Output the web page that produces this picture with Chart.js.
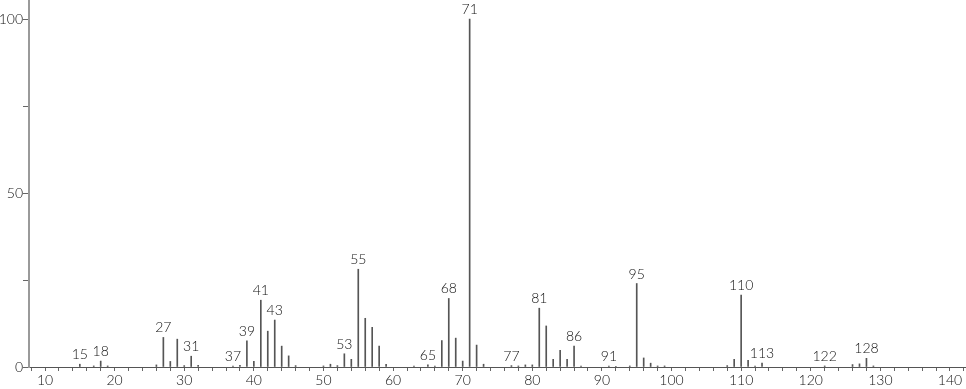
<!DOCTYPE html>
<html>
<head>
<meta charset="utf-8">
<script src="https://cdn.jsdelivr.net/npm/chart.js@4.4.1/dist/chart.umd.min.js"></script>
<style>
html,body{margin:0;padding:0;background:#fff;}
#wrap{width:966px;height:389px;position:relative;}
</style>
</head>
<body>
<div id="wrap"><canvas id="c" width="966" height="389"></canvas></div>
<script>
// m/z values and relative intensities
const mz = [15,17,18,19,26,27,28,29,30,31,32,37,38,39,40,41,42,43,44,45,46,50,51,52,53,54,55,56,57,58,59,63,65,66,67,68,69,70,71,72,73,77,78,79,80,81,82,83,84,85,86,87,91,92,94,95,96,97,98,99,108,109,110,111,112,113,122,126,127,128,129];
const intensity = [0.8,0.3,1.7,0.3,0.6,8.5,1.6,8.0,0.4,3.1,0.5,0.3,0.5,7.5,1.6,19.2,10.3,13.5,6.0,3.2,0.4,0.3,0.8,0.4,3.8,2.2,28.1,14.0,11.4,6.0,0.8,0.3,0.6,0.3,7.6,19.7,8.3,1.7,100,6.3,0.8,0.4,0.3,0.6,0.6,16.9,11.8,2.2,4.8,2.2,6.0,0.3,0.3,0.2,0.3,24.0,2.6,1.1,0.3,0.3,0.4,2.2,20.7,1.9,0.3,1.1,0.3,0.7,0.9,2.5,0.3];
const labelledPeaks = [15,18,27,31,37,39,41,43,53,55,65,68,71,77,81,86,91,95,110,113,122,128];
const yTickLabels = [0,50,100];
const xTickStep = 2;
const xLabelEvery = 10;

const points = mz.map((m,i)=>({x:m,y:intensity[i]}));
const FONT = 'Lato, "DejaVu Sans", sans-serif';

const peakLabels = {
  id:'peakLabels',
  afterDatasetsDraw(chart){
    const {ctx, scales:{x,y}} = chart;
    ctx.save();
    ctx.font = '300 14px ' + FONT;
    ctx.fillStyle = '#111';
    ctx.textAlign = 'center';
    ctx.textBaseline = 'alphabetic';
    labelledPeaks.forEach(m=>{
      const i = mz.indexOf(m);
      const px = x.getPixelForValue(m);
      const py = y.getPixelForValue(intensity[i]) - 5;
      ctx.fillText(String(m), px, py);
    });
    ctx.restore();
  }
};

new Chart(document.getElementById('c'), {
  type:'bar',
  data:{datasets:[{
    data:points,
    backgroundColor:'#555',
    borderWidth:0,
    barThickness:1,
    grouped:false
  }]},
  options:{
    responsive:false,
    animation:false,
    devicePixelRatio:1,
    layout:{padding:{top:0,right:0,left:0,bottom:0}},
    plugins:{legend:{display:false},tooltip:{enabled:false}},
    scales:{
      x:{
        type:'linear',
        offset:false,
        min:7.7,max:142.3,
        afterFit(s){s.height=22;s.paddingLeft=0;s.paddingRight=0;s.paddingTop=0;s.paddingBottom=0;},
        grid:{offset:false,drawOnChartArea:false,drawTicks:true,tickLength:4,color:'#666'},
        border:{display:true,color:'#555',width:1},
        ticks:{
          stepSize:xTickStep,
          includeBounds:false,
          autoSkip:false,
          maxRotation:0,
          padding:1,
          color:'#111',
          font:{family:FONT,size:14,weight:'300'},
          callback:(v)=> (v % xLabelEvery === 0) ? String(v) : ''
        }
      },
      y:{
        min:0,max:105.5,
        afterFit(s){s.width=29;s.paddingLeft=0;s.paddingRight=0;s.paddingTop=0;s.paddingBottom=0;},
        grid:{drawOnChartArea:false,drawTicks:true,tickLength:6,color:'#666'},
        border:{display:true,color:'#9a9a9a',width:2},
        ticks:{
          stepSize:25,
          includeBounds:false,
          autoSkip:false,
          padding:0,
          color:'#111',
          font:{family:FONT,size:14,weight:'300'},
          callback:(v)=> yTickLabels.includes(v) ? String(v) : ''
        }
      }
    }
  },
  plugins:[peakLabels]
});
</script>
</body>
</html>
